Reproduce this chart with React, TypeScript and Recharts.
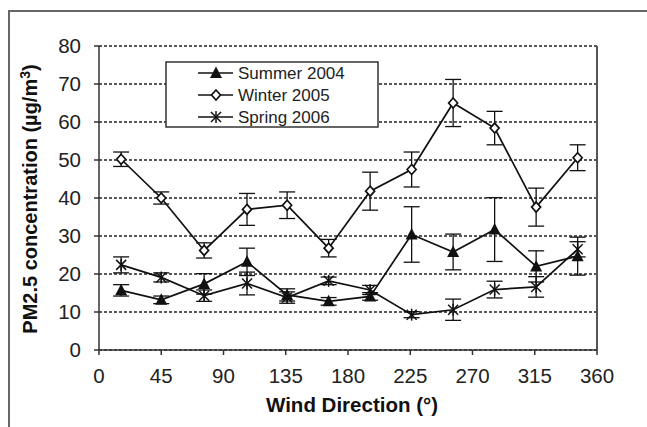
import React from 'react';
import { LineChart, Line, XAxis, YAxis, CartesianGrid, ErrorBar, ReferenceLine, Label } from 'recharts';

const directions = [16, 45, 76, 107, 136, 166, 196, 226, 256, 286, 316, 346];
const summer2004 = [15.7, 13.2, 17.4, 23.2, 14.5, 12.8, 14.1, 30.4, 25.8, 31.7, 22.0, 24.7];
const summer2004Err = [1.5, 1.0, 2.7, 3.6, 1.6, 1.0, 1.0, 7.3, 4.7, 8.4, 4.1, 5.0];
const winter2005 = [50.2, 40.0, 26.2, 37.0, 38.1, 26.8, 41.8, 47.5, 65.0, 58.4, 37.6, 50.6];
const winter2005Err = [1.9, 1.6, 2.0, 4.2, 3.5, 2.3, 5.0, 4.6, 6.2, 4.4, 5.0, 3.4];
const spring2006 = [22.4, 19.1, 14.3, 17.5, 13.8, 18.2, 15.8, 9.3, 10.6, 15.9, 16.6, 26.5];
const spring2006Err = [2.1, 1.2, 1.5, 3.0, 1.5, 1.0, 1.2, 0.8, 2.8, 2.2, 2.7, 2.0];

const xTicks = [0, 45, 90, 135, 180, 225, 270, 315, 360];
const yTicks = [0, 10, 20, 30, 40, 50, 60, 70, 80];
const seriesNames = ['Summer 2004', 'Winter 2005', 'Spring 2006'];

const data = directions.map((d, i) => ({
  dir: d,
  summer: summer2004[i],
  summerErr: summer2004Err[i],
  winter: winter2005[i],
  winterErr: winter2005Err[i],
  spring: spring2006[i],
  springErr: spring2006Err[i],
}));

const FONT = '"Liberation Sans", Arial, Helvetica, sans-serif';
const INK = '#111';

const triangle = (cx: number, cy: number) => (
  <polygon points={`${cx},${cy - 6.5} ${cx - 6},${cy + 5} ${cx + 6},${cy + 5}`} fill={INK} />
);
const diamond = (cx: number, cy: number) => (
  <polygon
    points={`${cx},${cy - 5} ${cx + 4.5},${cy} ${cx},${cy + 5} ${cx - 4.5},${cy}`}
    fill="#fff"
    stroke={INK}
    strokeWidth={1.7}
  />
);
const star = (cx: number, cy: number) => (
  <g stroke={INK} strokeWidth={1.5}>
    <line x1={cx - 5} y1={cy - 5} x2={cx + 5} y2={cy + 5} />
    <line x1={cx - 5} y1={cy + 5} x2={cx + 5} y2={cy - 5} />
    <line x1={cx} y1={cy - 6} x2={cx} y2={cy + 6} />
  </g>
);

const makeDot = (fn: (cx: number, cy: number) => React.ReactElement) => (props: any) => {
  const { cx, cy, index } = props;
  if (cx == null || cy == null) return <g key={`d-${index}`} />;
  return <g key={`d-${index}`}>{fn(cx, cy)}</g>;
};

const markers = [triangle, diamond, star];

const LegendBox = () => (
  <svg
    width={214}
    height={67}
    style={{ position: 'absolute', left: 165, top: 61 }}
  >
    <rect x={1} y={1} width={212} height={65} fill="#fff" stroke="#333" strokeWidth={1.5} />
    {seriesNames.map((name, i) => {
      const cy = 12 + i * 22;
      return (
        <g key={name}>
          <line x1={33} y1={cy} x2={68} y2={cy} stroke={INK} strokeWidth={1.6} />
          {markers[i](51, cy)}
          <text
            x={73}
            y={cy}
            dy="0.36em"
            fontFamily={FONT}
            fontSize={17}
            fill="#222"
          >
            {name}
          </text>
        </g>
      );
    })}
  </svg>
);

export default function App() {
  return (
    <div style={{ position: 'absolute', left: 0, top: 0, width: 647, height: 427, background: '#fff', overflow: 'hidden' }}>
      <div
        style={{
          position: 'absolute',
          left: 8,
          top: 10,
          right: -5,
          bottom: -5,
          borderTop: '2px solid #666',
          borderLeft: '2px solid #666',
        }}
      />
      <LineChart
        width={647}
        height={427}
        data={data}
        margin={{ top: 46, right: 50, left: 39, bottom: 27 }}
        style={{ position: 'absolute', left: 0, top: 0 }}
      >
        <CartesianGrid vertical={false} stroke="#222" strokeWidth={1.4} strokeDasharray="3 2" />
        <XAxis
          dataKey="dir"
          type="number"
          domain={[0, 360]}
          ticks={xTicks}
          interval={0}
          height={50}
          tickSize={5}
          tickMargin={13}
          axisLine={{ stroke: '#333', strokeWidth: 1.5 }}
          tickLine={{ stroke: '#333', strokeWidth: 1.5 }}
          tick={{ fill: '#222', fontSize: 20.5, fontFamily: FONT }}
        >
          <Label
            content={(props: any) => {
              const vb = props.viewBox || { x: 99, y: 350, width: 498 };
              return (
                <text
                  x={vb.x + vb.width / 2 + 4}
                  y={vb.y + 62}
                  textAnchor="middle"
                  fontFamily={FONT}
                  fontWeight="bold"
                  fontSize={20.5}
                  fill="#111"
                >
                  Wind Direction (°)
                </text>
              );
            }}
          />
        </XAxis>
        <YAxis
          type="number"
          domain={[0, 80]}
          ticks={yTicks}
          interval={0}
          width={60}
          tickSize={5}
          tickMargin={13}
          axisLine={{ stroke: '#333', strokeWidth: 1.5 }}
          tickLine={{ stroke: '#333', strokeWidth: 1.5 }}
          tick={{ fill: '#222', fontSize: 20.5, fontFamily: FONT }}
        >
          <Label
            content={(props: any) => {
              const vb = props.viewBox || { x: 39, y: 46, width: 60, height: 304 };
              const cx = 37;
              const cy = vb.y + vb.height / 2 + 1;
              return (
                <text
                  x={cx}
                  y={cy}
                  textAnchor="middle"
                  transform={`rotate(-90, ${cx}, ${cy})`}
                  fontFamily={FONT}
                  fontWeight="bold"
                  fontSize={20}
                  fill="#111"
                >
                  PM2.5 concentration (µg/m
                  <tspan dy={-7} fontSize={14}>3</tspan>
                  <tspan dy={7}>)</tspan>
                </text>
              );
            }}
          />
        </YAxis>
        <ReferenceLine x={360} stroke="#555" strokeWidth={2} />
        <Line
          dataKey="winter"
          stroke={INK}
          strokeWidth={1.7}
          isAnimationActive={false}
          dot={makeDot(diamond)}
          activeDot={false}
        >
          <ErrorBar dataKey="winterErr" width={8} stroke={INK} strokeWidth={1.3} direction="y" />
        </Line>
        <Line
          dataKey="spring"
          stroke={INK}
          strokeWidth={1.7}
          isAnimationActive={false}
          dot={makeDot(star)}
          activeDot={false}
        >
          <ErrorBar dataKey="springErr" width={8} stroke={INK} strokeWidth={1.3} direction="y" />
        </Line>
        <Line
          dataKey="summer"
          stroke={INK}
          strokeWidth={1.7}
          isAnimationActive={false}
          dot={makeDot(triangle)}
          activeDot={false}
        >
          <ErrorBar dataKey="summerErr" width={8} stroke={INK} strokeWidth={1.3} direction="y" />
        </Line>
      </LineChart>
      <LegendBox />
    </div>
  );
}
